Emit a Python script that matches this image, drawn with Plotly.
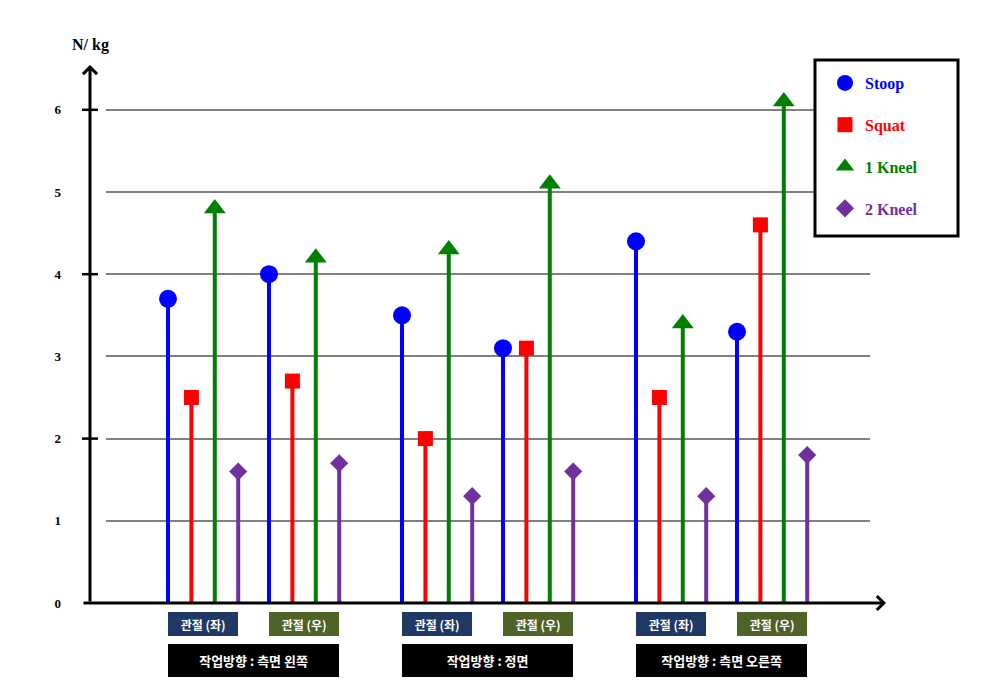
import plotly.graph_objects as go

# ---- data ----
series = ["Stoop", "Squat", "1 Kneel", "2 Kneel"]
joints = ["관절 (좌)", "관절 (우)"]
directions = ["작업방향 : 측면 왼쪽", "작업방향 : 정면", "작업방향 : 측면 오른쪽"]
stoop = [3.7, 4.0, 3.5, 3.1, 4.4, 3.3]
squat = [2.5, 2.7, 2.0, 3.1, 2.5, 4.6]
kneel1 = [4.8, 4.2, 4.3, 5.1, 3.4, 6.1]
kneel2 = [1.6, 1.7, 1.3, 1.6, 1.3, 1.8]
y_ticks = [0, 1, 2, 3, 4, 5, 6]
y_unit = "N/ kg"

values = [stoop, squat, kneel1, kneel2]
colors = ["#0000FF", "#FF0000", "#008000", "#7030A0"]
symbols = ["circle", "square", "triangle-up", "diamond"]
msizes = [18, 15, 19, 14]
joint_colors = ["#1F3864", "#4F6228"]

# ---- layout constants (pixel-like x units) ----
X0, GROUP_STEP, SUB_STEP, SER_STEP = 168.0, 234.0, 101.0, 23.4
PLOT_L, PLOT_R = 106, 870
W, H = 1000, 687
PLOT_B = 603
PX_PER_UNIT = 82.2
Y_TOP = PLOT_B / PX_PER_UNIT

def xpos(idx, k):
    g, s = divmod(idx, 2)
    return X0 + g * GROUP_STEP + s * SUB_STEP + k * SER_STEP

def px2paper_x(p):
    return (p - PLOT_L) / (PLOT_R - PLOT_L)

def px2paper_y(p):
    return (PLOT_B - p) / PLOT_B

serif = "Liberation Serif"
fig = go.Figure()

for k, name in enumerate(series):
    xs, ys = [], []
    for i, v in enumerate(values[k]):
        x = xpos(i, k)
        xs += [x, x, None]
        ys += [0, v, None]
    fig.add_trace(go.Scatter(x=xs, y=ys, mode="lines",
                             line=dict(color=colors[k], width=4),
                             showlegend=False, hoverinfo="skip"))
for k, name in enumerate(series):
    xs = [xpos(i, k) for i in range(len(values[k]))]
    fig.add_trace(go.Scatter(
        x=xs, y=values[k], mode="markers",
        marker=dict(symbol=symbols[k], size=msizes[k], color=colors[k],
                    line=dict(width=0)),
        name=f"<span style='color:{colors[k]}'><b>{name}</b></span>",
        legendgroup=name))

annotations = []
# y axis arrow
annotations.append(dict(x=px2paper_x(90), xref="paper", y=px2paper_y(65), yref="paper",
                        ax=0, ay=538, axref="pixel", ayref="pixel", text="",
                        showarrow=True, arrowhead=4, arrowsize=0.9, arrowwidth=3,
                        arrowcolor="black"))
# x axis arrow
annotations.append(dict(x=px2paper_x(886), xref="paper", y=0, yref="paper",
                        ax=-804, ay=0, axref="pixel", ayref="pixel",
                        text="", showarrow=True, arrowhead=4, arrowsize=0.9,
                        arrowwidth=3, arrowcolor="black"))
# unit label
annotations.append(dict(x=px2paper_x(90), xref="paper", y=px2paper_y(45), yref="paper",
                        xanchor="center", yanchor="middle",
                        text=f"<b>{y_unit}</b>", showarrow=False,
                        font=dict(family=serif, size=16, color="black")))

kor = "Noto Sans CJK KR"
for i in range(len(stoop)):
    left = xpos(i, 0)
    right = xpos(i, len(series) - 1)
    g, s = divmod(i, 2)
    annotations.append(dict(x=(left + right) / 2, xref="x", y=px2paper_y(624), yref="paper",
                            xanchor="center", yanchor="middle",
                            text=f"<b>{joints[s]}</b>", showarrow=False,
                            width=right - left, height=24, bgcolor=joint_colors[s],
                            borderpad=0, borderwidth=0,
                            font=dict(family=kor, size=12, color="white")))
for g, d in enumerate(directions):
    left = xpos(2 * g, 0)
    right = xpos(2 * g + 1, len(series) - 1)
    annotations.append(dict(x=(left + right) / 2, xref="x", y=px2paper_y(660.5), yref="paper",
                            xanchor="center", yanchor="middle",
                            text=f"<b>{d}</b>", showarrow=False,
                            width=right - left, height=33, bgcolor="black",
                            borderpad=0, borderwidth=0,
                            font=dict(family=kor, size=13, color="white")))

shapes = []
for t in [2, 4, 6]:
    shapes.append(dict(type="line", xref="paper", yref="y",
                       x0=px2paper_x(82), x1=px2paper_x(98), y0=t, y1=t,
                       line=dict(color="black", width=2.5)))
# legend frame
shapes.append(dict(type="rect", xref="paper", yref="paper",
                   x0=px2paper_x(815), x1=px2paper_x(958),
                   y0=px2paper_y(236), y1=px2paper_y(60),
                   fillcolor="white", line=dict(color="black", width=3),
                   layer="above"))

fig.update_layout(
    width=W, height=H,
    margin=dict(l=PLOT_L, r=W - PLOT_R, t=0, b=H - PLOT_B),
    paper_bgcolor="white", plot_bgcolor="white",
    xaxis=dict(range=[PLOT_L, PLOT_R], visible=False, showgrid=False, zeroline=False),
    yaxis=dict(range=[0, Y_TOP], tickvals=y_ticks, showgrid=True, gridcolor="#808080",
               gridwidth=1.5, zeroline=False, showline=False, ticks="",
               ticklabelstandoff=44,
               tickfont=dict(family=serif, size=13, color="black", weight="bold")),
    legend=dict(x=px2paper_x(825), xanchor="left", y=px2paper_y(66), yanchor="top",
                bgcolor="rgba(0,0,0,0)", borderwidth=0, tracegroupgap=18,
                font=dict(family=serif, size=16)),
    annotations=annotations, shapes=shapes,
)

fig.write_html("out.html")
